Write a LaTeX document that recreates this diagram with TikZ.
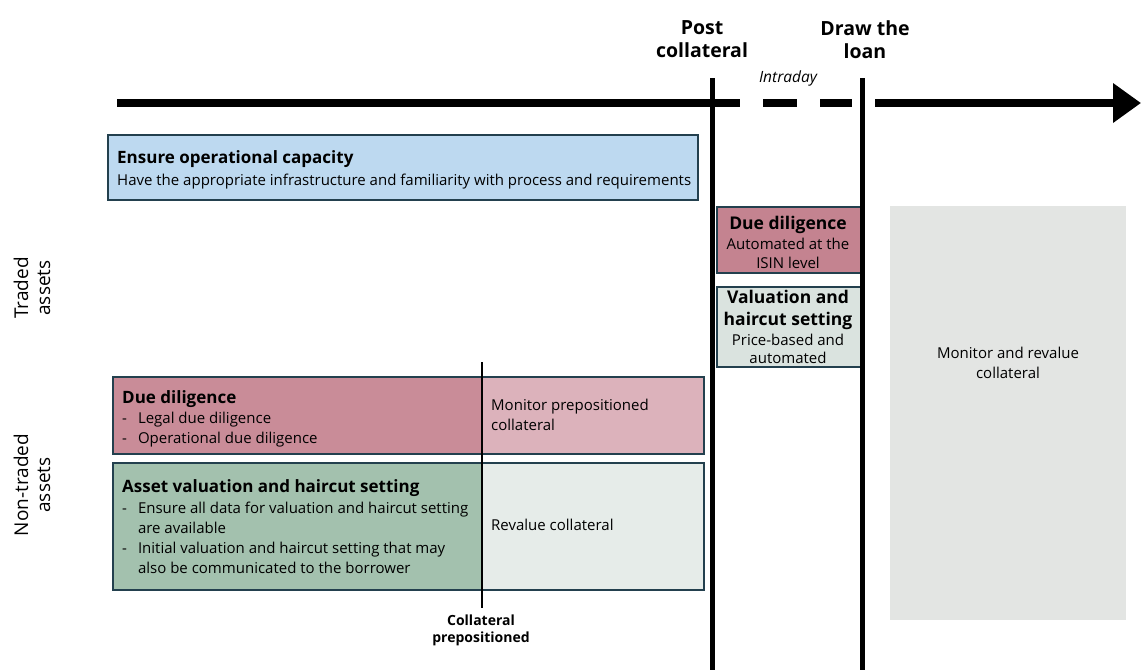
\documentclass[tikz,border=0pt]{standalone}
\usepackage{fontspec}
\setmainfont{Open Sans}
\usetikzlibrary{arrows.meta}
\definecolor{bluefill}{HTML}{BDD9F0}
\definecolor{edge}{HTML}{23404E}
\definecolor{redfill}{HTML}{C48390}
\definecolor{redleft}{HTML}{C98C98}
\definecolor{redright}{HTML}{DCB2BB}
\definecolor{greenfill}{HTML}{DAE3DF}
\definecolor{greenleft}{HTML}{A3C1AE}
\definecolor{greenright}{HTML}{E6ECE9}
\definecolor{grayfill}{HTML}{E3E5E3}
\newcommand{\ttlfont}{\fontsize{17}{20}\selectfont\bfseries}
\tikzset{
  box/.style={draw=edge, line width=1.5pt, rectangle, inner sep=0pt, anchor=north west},
  half/.style={rectangle, inner sep=0pt, anchor=north west},
  body/.style={font=\fontsize{15}{20}\selectfont, inner sep=0pt, align=left, anchor=west},
  cbody/.style={font=\fontsize{15}{20}\selectfont, inner sep=0pt, align=center},
  milestone/.style={font=\fontsize{19.5}{23}\selectfont\bfseries, align=center, inner sep=0pt},
  timeline/.style={line width=8pt},
  stem/.style={line width=5pt},
  side/.style={font=\fontsize{19}{22}\selectfont, align=center, rotate=90, inner sep=0pt}
}
\begin{document}
\begin{tikzpicture}[x=1pt,y=-1pt]
\useasboundingbox (0,0) rectangle (1141,670);

% timeline
\coordinate (t0) at (117,103);
\coordinate (t1) at (740,103);
\coordinate (d1a) at (763,103);
\coordinate (d1b) at (797,103);
\coordinate (d2a) at (820,103);
\coordinate (d2b) at (852,103);
\coordinate (t2) at (875,103);
\coordinate (t3) at (1141,103);
\draw[timeline] (t0) -- (t1);
\draw[timeline] (d1a) -- (d1b);
\draw[timeline] (d2a) -- (d2b);
\draw[timeline, -{Triangle[length=28pt,width=38pt]}] (t2) -- (t3);

% top labels
\node[milestone] (post) at (702,39.5) {Post\\collateral};
\node[milestone] (draw) at (865,39.5) {Draw the\\loan};
\node[font=\fontsize{15.5}{18}\selectfont\itshape, inner sep=0pt] (intra) at (788,78) {Intraday};

% blue box
\node[box, fill=bluefill, minimum width=590pt, minimum height=65pt] (ops) at (107,134) {};
\node[body] (opstxt) at (117,170) {{\ttlfont Ensure operational capacity}\\[2pt]Have the appropriate infrastructure and familiarity with process and requirements};

% gray box
\node[half, fill=grayfill, minimum width=236pt, minimum height=414pt] (mon) at (890,206) {};
\node[cbody] (montxt) at (1008,363) {Monitor and revalue\\collateral};

% traded boxes
\node[box, fill=redfill, minimum width=144pt, minimum height=66pt] (tdd) at (716,206) {};
\node[cbody] (tddtxt) at (788,242) {{\fontsize{17.5}{20}\selectfont\bfseries Due diligence}\\Automated at the\\[-1pt]ISIN level};
\node[box, fill=greenfill, minimum width=144pt, minimum height=80pt] (tval) at (716,286) {};
\node[cbody] (tvaltxt) at (788,327) {{\fontsize{17.5}{20}\selectfont\bfseries Valuation and}\\[2pt]{\fontsize{17.5}{20}\selectfont\bfseries haircut setting}\\Price-based and\\[-2pt]automated};

% non-traded due diligence
\node[half, fill=redleft, minimum width=370pt, minimum height=77pt] (ndl) at (112,376) {};
\node[half, fill=redright, minimum width=221pt, minimum height=77pt] (ndr) at (482,376) {};
\node[box, fill=none, minimum width=591pt, minimum height=77pt] (ndd) at (112,376) {};
\node[body] (ndltxt) at (122,420) {{\ttlfont Due diligence}\\
\begin{tabular}[t]{@{}l@{\hspace{11pt}}l@{}}-&Legal due diligence\\-&Operational due diligence\end{tabular}};
\node[body] (ndrtxt) at (491,414.5) {Monitor prepositioned\\collateral};

% non-traded valuation
\node[half, fill=greenleft, minimum width=370pt, minimum height=127pt] (nvl) at (112,462) {};
\node[half, fill=greenright, minimum width=221pt, minimum height=127pt] (nvr) at (482,462) {};
\node[box, fill=none, minimum width=591pt, minimum height=127pt] (nval) at (112,462) {};
\node[body] (nvltxt) at (122,530) {{\ttlfont Asset valuation and haircut setting}\\[1pt]
\begin{tabular}[t]{@{}l@{\hspace{11pt}}l@{}}-&Ensure all data for valuation and haircut setting\\&are available\\-&Initial valuation and haircut setting that may\\&also be communicated to the borrower\end{tabular}};
\node[body] (nvrtxt) at (491,525) {Revalue collateral};

% prepositioned line
\coordinate (p0) at (482,362);
\coordinate (p1) at (482,608);
\draw[line width=2pt] (p0) -- (p1);
\node[font=\fontsize{14}{17}\selectfont\bfseries, align=center, inner sep=0pt] (prep) at (481,630.5) {Collateral\\prepositioned};

% milestone stems
\coordinate (s1a) at (712,78);
\coordinate (s1b) at (712,670);
\coordinate (s2a) at (862,78);
\coordinate (s2b) at (862,670);
\draw[stem] (s1a) -- (s1b);
\draw[stem] (s2a) -- (s2b);

% side labels
\node[side] (traded) at (32,288) {Traded\\assets};
\node[side] (nontraded) at (32,485) {Non-traded\\assets};
\end{tikzpicture}
\end{document}
